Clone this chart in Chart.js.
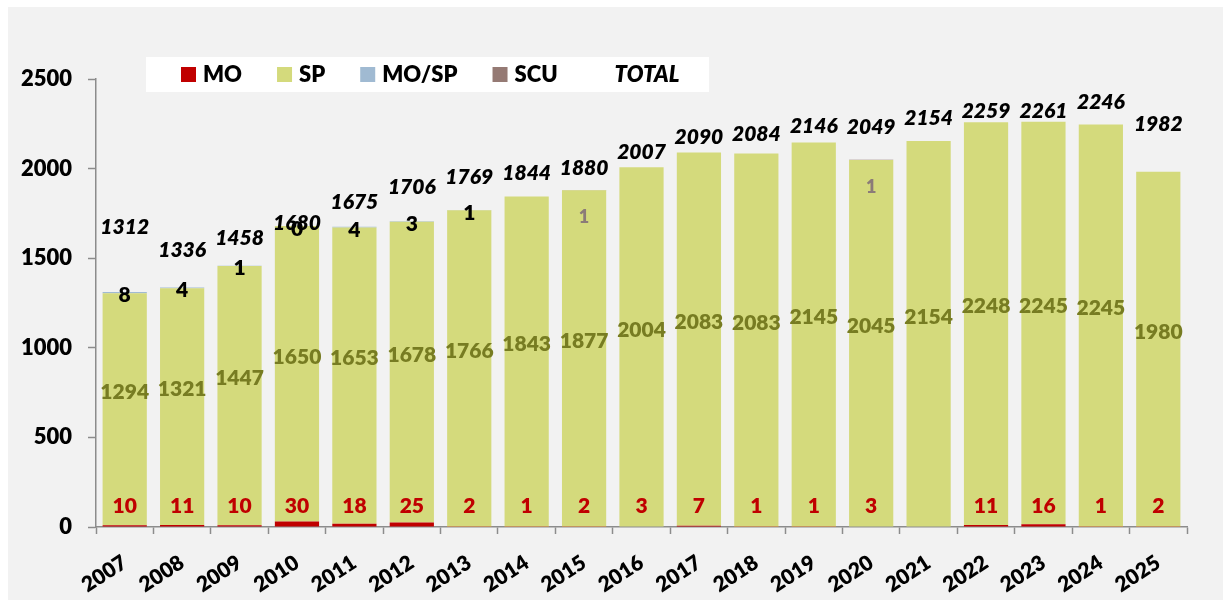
<!DOCTYPE html>
<html>
<head>
<meta charset="utf-8">
<script src="https://cdn.jsdelivr.net/npm/chart.js@4"></script>
<style>
html, body { margin: 0; padding: 0; background: #ffffff; }
#wrap { width: 1223px; height: 603px; }
</style>
</head>
<body>
<div id="wrap"><canvas id="myChart"></canvas></div>
<script>
var years = ['2007', '2008', '2009', '2010', '2011', '2012', '2013', '2014', '2015', '2016',
             '2017', '2018', '2019', '2020', '2021', '2022', '2023', '2024', '2025'];
var mo    = [10, 11, 10, 30, 18, 25, 2, 1, 2, 3, 7, 1, 1, 3, null, 11, 16, 1, 2];
var sp    = [1294, 1321, 1447, 1650, 1653, 1678, 1766, 1843, 1877, 2004,
             2083, 2083, 2145, 2045, 2154, 2248, 2245, 2245, 1980];
var moSp  = [8, 4, 1, 0, 4, 3, 1, null, null, null, null, null, null, null, null, null, null, null, null];
var scu   = [null, null, null, null, null, null, null, null, 1, null, null, null, null, 1, null, null, null, null, null];
var total = [1312, 1336, 1458, 1680, 1675, 1706, 1769, 1844, 1880, 2007,
             2090, 2084, 2146, 2049, 2154, 2259, 2261, 2246, 1982];
var yTicks = [0, 500, 1000, 1500, 2000, 2500];

// the TOTAL labels were placed by hand in the original, px above the bar top
var totalLift = [65, 37, 27, 3, 25, 34, 33, 23, 22, 15, 15, 19, 16, 33, 23, 11, 11, 22, 48];

var FONT = 'Lato, "Open Sans", sans-serif';
var HEAVY = 800;

var background = {
    id: 'background',
    beforeDraw: function (chart) {
        var c = chart.ctx;
        c.save();
        c.fillStyle = '#ffffff';
        c.fillRect(0, 0, chart.width, chart.height);
        c.fillStyle = '#f2f2f2';
        c.fillRect(8, 7, chart.width - 8, 593);
        c.restore();
    }
};

var valueLabels = {
    id: 'valueLabels',
    afterDatasetsDraw: function (chart) {
        var c = chart.ctx;
        c.save();
        c.textAlign = 'center';
        c.textBaseline = 'middle';
        chart.data.datasets.forEach(function (ds, i) {
            var meta = chart.getDatasetMeta(i);
            meta.data.forEach(function (bar, j) {
                var v = ds.data[j];
                if (v === null || v === undefined) return;
                var p = bar.getProps(['x', 'y', 'base'], true);
                var y;
                if (ds.label === 'MO') {
                    c.font = HEAVY + ' 21px ' + FONT; c.fillStyle = '#c00000';
                    y = p.base - 20;
                } else if (ds.label === 'SP') {
                    c.font = HEAVY + ' 21px ' + FONT; c.fillStyle = '#777c22';
                    y = (p.y + p.base) / 2 - 17;
                } else if (ds.label === 'MO/SP') {
                    c.font = HEAVY + ' 21px ' + FONT; c.fillStyle = '#000000';
                    y = p.y + 3;
                } else {
                    c.font = HEAVY + ' 18px ' + FONT; c.fillStyle = '#8b7b78';
                    y = p.y + 27;
                }
                c.fillText(String(v), p.x, y);
            });
        });
        // totals above each stack
        var xs = chart.scales.x, ys = chart.scales.y;
        c.font = 'italic ' + HEAVY + ' 21px ' + FONT;
        c.fillStyle = '#000000';
        total.forEach(function (t, j) {
            c.fillText(String(t), xs.getPixelForValue(j), ys.getPixelForValue(t) - totalLift[j]);
        });
        c.restore();
    }
};

var boxLegend = {
    id: 'boxLegend',
    afterDraw: function (chart) {
        var c = chart.ctx;
        c.save();
        c.fillStyle = '#ffffff';
        c.fillRect(146, 57, 563, 35);
        var x = 181;
        var items = chart.data.datasets.map(function (ds) {
            return { text: ds.label, color: ds.backgroundColor, italic: false };
        });
        items.push({ text: 'TOTAL', color: null, italic: true });
        c.textBaseline = 'middle';
        c.textAlign = 'left';
        items.forEach(function (it) {
            if (it.color) {
                c.fillStyle = it.color;
                c.fillRect(x, 67, 15, 15);
            }
            c.font = (it.italic ? 'italic ' : '') + HEAVY + ' 22px ' + FONT;
            c.fillStyle = '#000000';
            c.fillText(it.text, x + 22, 75);
            x += 22 + c.measureText(it.text).width + 35;
        });
        c.restore();
    }
};

var ctx = document.getElementById('myChart').getContext('2d');
var myChart = new Chart(ctx, {
    type: 'bar',
    data: {
        labels: years,
        datasets: [{
            label: 'MO',
            data: mo,
            backgroundColor: '#c00000'
        }, {
            label: 'SP',
            data: sp,
            backgroundColor: '#d4da7c'
        }, {
            label: 'MO/SP',
            data: moSp,
            backgroundColor: '#a0bad2'
        }, {
            label: 'SCU',
            data: scu,
            backgroundColor: '#957a74'
        }]
    },
    options: {
        responsive: true,
        maintainAspectRatio: false,
        animation: false,
        barPercentage: 0.77,
        categoryPercentage: 1,
        layout: {
            padding: { left: 8, right: 36, top: 79, bottom: 0 }
        },
        plugins: {
            legend: { display: false },
            tooltip: { enabled: false }
        },
        scales: {
            x: {
                stacked: true,
                afterFit: function (scale) { scale.height = 76; },
                border: { color: '#8c8c8c', width: 1.5 },
                grid: {
                    drawOnChartArea: false,
                    tickLength: 7,
                    tickColor: '#8c8c8c',
                    tickWidth: 1.5
                },
                ticks: {
                    minRotation: 33,
                    maxRotation: 33,
                    padding: 16,
                    color: '#000000',
                    font: { family: FONT, size: 21, weight: HEAVY }
                }
            },
            y: {
                stacked: true,
                min: 0,
                max: 2500,
                afterFit: function (scale) { scale.width = 88; },
                afterBuildTicks: function (scale) {
                    scale.ticks = yTicks.map(function (v) { return { value: v }; });
                },
                border: { color: '#8c8c8c', width: 1.5 },
                grid: {
                    drawOnChartArea: false,
                    tickLength: 8,
                    tickColor: '#8c8c8c',
                    tickWidth: 1.5
                },
                ticks: {
                    padding: 16,
                    color: '#000000',
                    font: { family: FONT, size: 22, weight: HEAVY },
                    callback: function (v) { return String(v); }
                }
            }
        }
    },
    plugins: [background, valueLabels, boxLegend]
});
</script>
</body>
</html>
